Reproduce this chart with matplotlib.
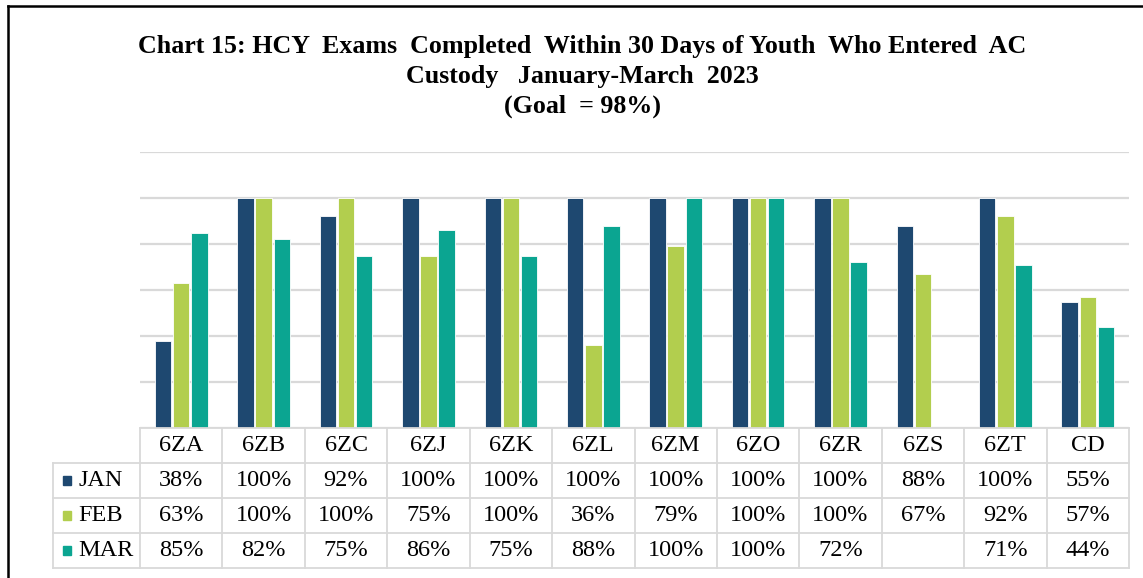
import matplotlib
matplotlib.use("Agg")
import matplotlib.pyplot as plt
from matplotlib.lines import Line2D
from matplotlib.patches import Rectangle
import numpy as np

units = ["6ZA", "6ZB", "6ZC", "6ZJ", "6ZK", "6ZL", "6ZM", "6ZO", "6ZR", "6ZS", "6ZT", "CD"]
months = ["JAN", "FEB", "MAR"]
jan = [38, 100, 92, 100, 100, 100, 100, 100, 100, 88, 100, 55]
feb = [63, 100, 100, 75, 100, 36, 79, 100, 100, 67, 92, 57]
mar = [85, 82, 75, 86, 75, 88, 100, 100, 72, None, 71, 44]
colors = ["#1E4870", "#B2CE4E", "#0BA591"]

SERIF = ["Liberation Serif", "DejaVu Serif"]
GRID = "#D9D9D9"
W, H = 1143, 578

fig = plt.figure(figsize=(W / 100, H / 100), dpi=100)

# bar area
ax = fig.add_axes([140 / W, (H - 428) / H, 989 / W, 276 / H])
x = np.arange(len(units))
for i, (vals, c) in enumerate(zip([jan, feb, mar], colors)):
    v = [np.nan if a is None else a for a in vals]
    ax.bar(x + (i - 1) * 0.22, v, width=0.2, color=c, edgecolor="white", linewidth=0.6, zorder=3)
ax.set_xlim(-0.5, len(units) - 0.5)
ax.set_ylim(0, 120)
ax.set_yticks(range(0, 121, 20))
ax.yaxis.grid(True, color=GRID, linewidth=1.6)
ax.set_axisbelow(True)
ax.tick_params(left=False, bottom=False, labelleft=False, labelbottom=False)
for s in ax.spines.values():
    s.set_visible(False)

# data table under the bars
tb = fig.add_axes([140 / W, (H - 568) / H, 989 / W, 140 / H])
tb.set_xlim(-0.5, len(units) - 0.5)
tb.set_ylim(4, 0)
tb.axis("off")
lab_left = -0.5 - 86.5 / 82.4
lw = 1.3
tb.plot([-0.5, 11.5], [0, 0], color=GRID, lw=lw, clip_on=False)
for r in range(1, 5):
    tb.plot([lab_left, 11.5], [r, r], color=GRID, lw=lw, clip_on=False)
for k in range(len(units) + 1):
    tb.plot([k - 0.5, k - 0.5], [0, 4], color=GRID, lw=lw, clip_on=False)
tb.plot([lab_left, lab_left], [1, 4], color=GRID, lw=lw, clip_on=False)

fs = 17.5
for k, u in enumerate(units):
    tb.text(k, 0.5, u, ha="center", va="center", fontsize=fs, family=SERIF)
for r, (m, vals, c) in enumerate(zip(months, [jan, feb, mar], colors)):
    yy = r + 1.5
    tb.add_patch(Rectangle((lab_left + 0.11, yy - 0.12), 0.1, 0.24, color=c, clip_on=False))
    tb.text(lab_left + 0.3, yy, m, ha="left", va="center", fontsize=fs, family=SERIF)
    for k, v in enumerate(vals):
        if v is not None:
            tb.text(k, yy, f"{v}%", ha="center", va="center", fontsize=fs, family=SERIF)

# title
title = ("Chart 15: HCY  Exams  Completed  Within 30 Days of Youth  Who Entered  AC\n"
         "Custody   January-March  2023\n"
         "(Goal  = 98%)")
fig.text(582 / W, 1 - 35 / H, title, ha="center", va="top", fontsize=18.7, fontweight="bold",
         family=SERIF, linespacing=1.37)

# page frame
fig.add_artist(Line2D([8 / W, 8 / W], [0, 1 - 6 / H], color="black", lw=1.8))
fig.add_artist(Line2D([8 / W, 1], [1 - 6 / H, 1 - 6 / H], color="black", lw=1.8))

fig.savefig("out.png", dpi=100)
